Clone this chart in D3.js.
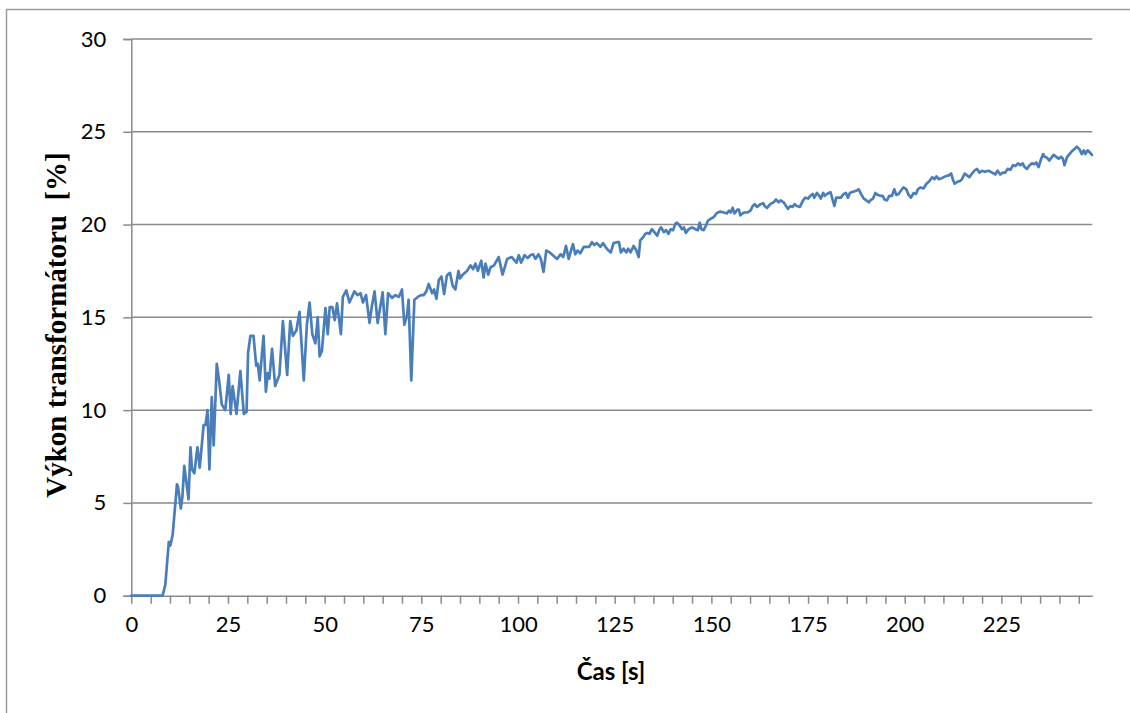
<!DOCTYPE html>
<html>
<head>
<meta charset="utf-8">
<script src="https://cdn.jsdelivr.net/npm/d3@7"></script>
<style>
  html, body { margin: 0; padding: 0; background: #fff; }
  svg { display: block; }
</style>
</head>
<body>
<svg id="chart" width="1130" height="713"></svg>
<script>
// Transformer load over time after switch-on
const seconds = [
  0, 8.1, 8.8, 9.7, 10.1, 10.7, 11.4, 11.8, 12.1, 12.8, 13.2, 13.7, 14.8, 15.3, 15.7, 16.3, 17.1, 17.7,
  18.7, 19.2, 19.7, 20.2, 20.8, 21.3, 22.1, 22.7, 23.4, 24.3, 25.2, 25.7, 26.2, 27.2, 28.2, 29.1, 29.8,
  30.2, 30.8, 31.6, 32.3, 32.7, 33.2, 34.2, 34.8, 35.3, 35.7, 36.4, 37.2, 38.3, 39.2, 40.3, 41.1, 41.8,
  42.7, 43.5, 44.6, 45.4, 46.1, 46.8, 47.6, 48.2, 48.7, 49.3, 50.2, 50.8, 51.3, 52.0, 52.6, 53.2, 54.2,
  54.7, 55.6, 56.4, 57.7, 58.5, 59.3, 59.9, 60.7, 61.6, 62.2, 62.9, 63.7, 65.0, 65.7, 66.4, 67.4, 68.3,
  69.2, 70.0, 70.6, 71.3, 71.7, 72.4, 73.2, 74.1, 74.9, 75.6, 76.3, 76.9, 77.8, 78.3, 78.9, 79.5, 80.2,
  80.9, 81.6, 82.4, 83.1, 83.8, 84.6, 85.0, 85.7, 86.8, 87.7, 88.4, 89.0, 89.6, 90.5, 91.1, 91.6, 92.3,
  92.9, 93.8, 95.0, 96.0, 97.2, 98.4, 99.6, 100.2, 100.8, 101.7, 102.5, 103.2, 103.9, 104.5, 105.3,
  105.9, 106.6, 107.3, 108.2, 109.0, 110.1, 111.0, 111.7, 112.4, 113.1, 113.7, 114.2, 114.8, 115.4,
  116.1, 117.0, 117.8, 118.4, 119.1, 119.7, 120.4, 121.3, 122.0, 122.6, 123.4, 124.0, 124.7, 125.6,
  126.1, 126.6, 127.3, 128.0, 128.5, 129.1, 129.9, 130.6, 131.2, 131.6, 132.3, 132.9, 133.5, 134.0,
  134.6, 135.2, 136.0, 136.5, 137.0, 137.7, 138.3, 138.9, 139.5, 140.1, 140.7, 141.1, 141.8, 142.4,
  142.9, 143.4, 144.1, 145.0, 145.9, 146.5, 147.0, 147.4, 148.0, 148.6, 149.1, 149.7, 150.6, 151.3,
  151.7, 152.3, 153.2, 154.0, 154.5, 155.0, 155.5, 156.0, 156.7, 157.1, 157.5, 158.4, 159.3, 160.1,
  160.7, 161.2, 161.8, 162.7, 163.4, 163.8, 164.4, 165.2, 166.1, 166.7, 167.4, 167.9, 168.7, 169.3,
  169.8, 170.4, 171.0, 171.5, 172.1, 172.9, 173.7, 174.3, 175.0, 175.6, 176.2, 176.6, 177.3, 177.9,
  178.3, 178.9, 179.3, 179.9, 180.8, 181.2, 181.8, 182.3, 182.9, 183.5, 184.2, 184.8, 185.3, 185.8,
  186.4, 187.1, 187.7, 188.1, 188.7, 189.4, 190.1, 190.7, 191.1, 191.8, 192.4, 193.0, 193.7, 194.3,
  194.8, 195.4, 196.0, 196.7, 197.3, 197.8, 198.4, 199.1, 199.7, 200.4, 201.0, 201.6, 202.3, 202.9,
  203.4, 204.0, 204.9, 205.6, 206.4, 207.1, 207.7, 208.2, 208.8, 209.6, 210.5, 211.4, 212.0, 212.5,
  212.9, 213.6, 214.3, 214.8, 215.5, 216.1, 216.7, 217.4, 218.0, 218.7, 219.3, 220.0, 220.7, 221.7,
  222.6, 223.4, 224.0, 224.7, 225.4, 226.0, 226.6, 227.3, 228.0, 228.6, 229.3, 229.9, 230.5, 231.0,
  231.6, 232.3, 232.9, 233.5, 234.0, 234.6, 235.2, 235.8, 236.2, 236.8, 237.4, 237.9, 238.5, 239.2,
  239.8, 240.4, 240.9, 241.3, 242.0, 242.6, 243.2, 243.8, 244.5, 245.2, 245.8, 246.3, 246.7, 247.3,
  247.8, 248.4
];

const power = [
  0, 0, 0.6, 2.9, 2.7, 3.3, 5.0, 6.0, 5.85, 4.7, 5.3, 7.0, 5.2, 8.0, 6.8, 6.6, 8.0, 6.9,
  9.2, 9.2, 10.0, 6.8, 10.7, 8.1, 12.5, 11.6, 10.3, 10.0, 11.9, 9.8, 11.3, 9.8, 12.1, 9.8, 9.9,
  13.1, 14.0, 14.0, 12.4, 12.5, 11.6, 14.0, 11.0, 12.0, 11.7, 13.3, 11.3, 11.9, 14.8, 11.9, 14.8, 14.0,
  14.3, 15.3, 11.6, 14.6, 15.8, 14.1, 13.6, 15.0, 12.9, 13.2, 15.5, 14.1, 15.55, 15.55, 14.85, 15.75, 14.1,
  16.1, 16.45, 15.8, 16.4, 16.2, 16.3, 15.8, 16.2, 14.7, 15.6, 16.4, 14.7, 16.35, 14.1, 16.3, 16.05, 16.2,
  16.1, 16.5, 14.6, 15.1, 15.95, 11.6, 15.95, 16.1, 16.2, 16.2, 16.4, 16.8, 16.3, 16.5, 16.0, 17.0, 17.2,
  16.25, 17.25, 17.4, 16.7, 16.5, 17.5, 17.1, 17.3, 17.5, 17.8, 17.6, 17.9, 17.5, 18.05, 17.15, 17.9, 17.3,
  17.7, 17.8, 18.25, 17.3, 18.15, 18.25, 17.95, 18.35, 17.95, 18.35, 18.2, 18.35, 18.4, 18.15, 18.4,
  18.15, 17.45, 18.6, 18.5, 18.35, 18.15, 18.4, 18.25, 18.85, 18.15, 18.6, 18.95, 18.4, 18.6,
  18.45, 18.8, 18.8, 18.8, 19.05, 18.9, 19.0, 18.8, 19.0, 18.8, 18.6, 18.5, 19.0, 19.05,
  19.05, 18.5, 18.7, 18.5, 18.7, 18.5, 18.85, 18.6, 18.25, 19.15, 19.3, 19.5, 19.55, 19.5,
  19.75, 19.6, 19.4, 19.7, 19.85, 19.6, 19.7, 19.5, 19.75, 19.7, 20.05, 20.1, 19.95, 19.75,
  19.85, 19.55, 19.75, 19.85, 19.75, 19.7, 20.1, 19.75, 19.7, 19.95, 20.2, 20.3, 20.4, 20.6,
  20.65, 20.7, 20.65, 20.6, 20.75, 20.65, 20.9, 20.6, 20.8, 20.8, 20.5, 20.65, 20.65, 20.75,
  21.0, 21.1, 20.95, 21.1, 21.15, 21.0, 20.9, 21.1, 21.2, 21.35, 21.2, 21.3, 21.2, 21.0,
  20.85, 21.0, 20.95, 21.1, 21.0, 20.95, 21.3, 21.45, 21.4, 21.55, 21.65, 21.45, 21.7, 21.55,
  21.4, 21.7, 21.55, 21.65, 21.75, 21.45, 21.0, 21.45, 21.45, 21.45, 21.65, 21.7, 21.45, 21.7,
  21.75, 21.8, 21.85, 21.9, 21.65, 21.4, 21.3, 21.2, 21.3, 21.4, 21.7, 21.6, 21.55, 21.55,
  21.35, 21.3, 21.55, 21.55, 21.9, 21.6, 21.65, 21.85, 22.0, 21.9, 21.6, 21.45, 21.7, 21.65,
  21.9, 22.0, 21.95, 22.2, 22.35, 22.55, 22.45, 22.6, 22.45, 22.5, 22.6, 22.65, 22.75, 22.4,
  22.2, 22.3, 22.35, 22.45, 22.75, 22.65, 22.55, 22.75, 22.9, 23.0, 22.8, 22.9, 22.85, 22.9,
  22.8, 22.7, 22.9, 22.7, 22.8, 22.8, 23.0, 22.95, 23.2, 23.15, 23.3, 23.2, 23.3, 23.1,
  23.0, 23.2, 23.3, 23.25, 23.35, 23.1, 23.5, 23.8, 23.65, 23.6, 23.45, 23.6, 23.75, 23.65,
  23.55, 23.65, 23.55, 23.2, 23.65, 23.8, 23.95, 24.05, 24.2, 24.05, 23.8, 24.0, 23.8, 24.0,
  23.9, 23.75
];

const yTicks = [0, 5, 10, 15, 20, 25, 30];
const xMinorTicks = d3.range(0, 250, 5);
const xLabels = [0, 25, 50, 75, 100, 125, 150, 175, 200, 225];
const xTitle = "Čas [s]";
const yTitle = "Výkon transformátoru  [%]";

const svg = d3.select("#chart");
const W = 1130, H = 713;
const gray = "#8a8a8a";
const labelFont = "Lato, 'Open Sans', sans-serif";

svg.append("rect").attr("width", W).attr("height", H).attr("fill", "#fff");

// outer chart frame (runs past the right and bottom edge of the page)
svg.append("rect")
  .attr("x", 6.5).attr("y", 9.5)
  .attr("width", 1300).attr("height", 900)
  .attr("fill", "none").attr("stroke", "#9a9a9a").attr("stroke-width", 1.5);

const x = d3.scaleLinear().domain([0, 248.5]).range([131.3, 1092.3]);
const y = d3.scaleLinear().domain([0, 30]).range([595.7, 39]);

// horizontal gridlines
svg.append("g")
  .selectAll("line")
  .data(yTicks.filter(d => d > 0))
  .join("line")
  .attr("x1", x(0)).attr("x2", x.range()[1])
  .attr("y1", d => y(d)).attr("y2", d => y(d))
  .attr("stroke", gray).attr("stroke-width", 1.5);

// y axis
const yAxis = svg.append("g")
  .attr("transform", `translate(${x(0)},0)`)
  .call(d3.axisLeft(y).tickValues(yTicks).tickSize(8).tickPadding(17).tickFormat(d3.format("d")));
yAxis.select(".domain").attr("stroke", gray).attr("stroke-width", 1.5);
yAxis.selectAll(".tick line").attr("stroke", gray).attr("stroke-width", 1.5);
yAxis.selectAll("text")
  .attr("font-family", labelFont)
  .attr("font-size", 22).attr("fill", "#000");

// x axis: minor ticks every 5 s, labels every 25 s
const xAxis = svg.append("g")
  .attr("transform", `translate(0,${y(0)})`)
  .call(d3.axisBottom(x).tickValues(xMinorTicks).tickSize(8).tickSizeOuter(0)
    .tickFormat(d => xLabels.includes(d) ? d : "").tickPadding(13));
xAxis.select(".domain").attr("stroke", gray).attr("stroke-width", 1.5);
xAxis.selectAll(".tick line").attr("stroke", gray).attr("stroke-width", 1.5);
xAxis.selectAll("text")
  .attr("font-family", labelFont)
  .attr("font-size", 22).attr("fill", "#000");

// series line
const points = seconds.map((t, i) => [t, power[i]]);
svg.append("path")
  .datum(points)
  .attr("fill", "none")
  .attr("stroke", "#4a7ebb")
  .attr("stroke-width", 2.7)
  .attr("stroke-linejoin", "round")
  .attr("stroke-linecap", "round")
  .attr("d", d3.line().x(d => x(d[0])).y(d => y(d[1])));

// axis titles
svg.append("text")
  .attr("x", 611).attr("y", 680)
  .attr("text-anchor", "middle")
  .attr("font-family", labelFont)
  .attr("font-weight", "bold").attr("font-size", 24)
  .text(xTitle);

svg.append("text")
  .attr("transform", "translate(66,325) rotate(-90)")
  .attr("text-anchor", "middle")
  .attr("font-family", "'Liberation Serif', 'DejaVu Serif', serif")
  .attr("font-weight", "bold").attr("font-size", 29)
  .style("white-space", "pre")
  .text(yTitle);
</script>
</body>
</html>
